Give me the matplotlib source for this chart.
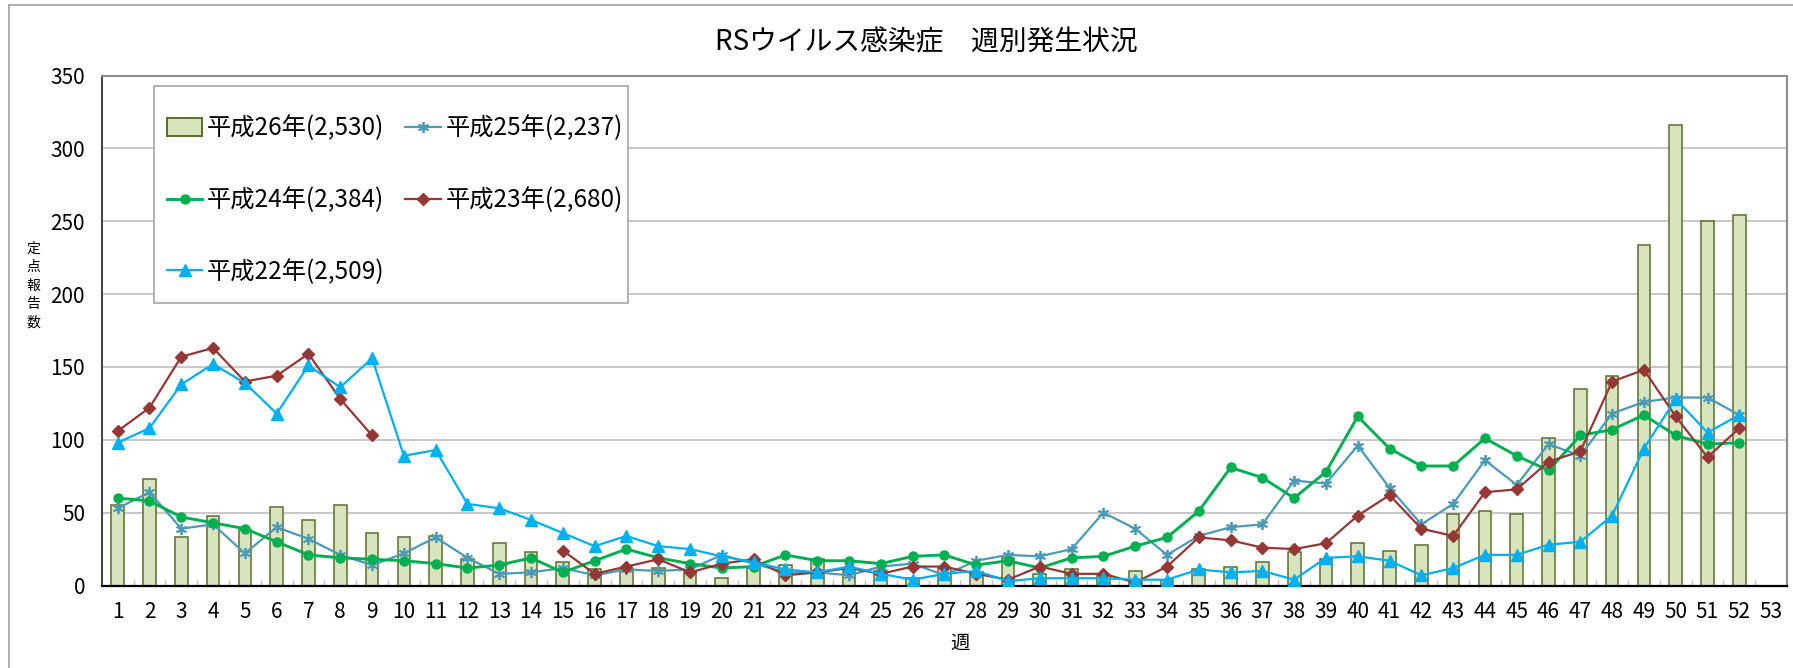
import numpy as np
import matplotlib
matplotlib.use("Agg")
import matplotlib.pyplot as plt
from matplotlib.patches import Rectangle
from matplotlib.lines import Line2D

plt.rcParams['font.family'] = ['Noto Sans CJK JP', 'DejaVu Sans']

title = "RSウイルス感染症　週別発生状況"
xlabel = "週"
ylabel = "定点報告数"
weeks = list(range(1, 54))
week_labels = [str(w) for w in weeks]
yticks = [0, 50, 100, 150, 200, 250, 300, 350]

label_h26 = "平成26年(2,530)"
label_h25 = "平成25年(2,237)"
label_h24 = "平成24年(2,384)"
label_h23 = "平成23年(2,680)"
label_h22 = "平成22年(2,509)"

h26 = [55, 73, 33, 48, 38, 54, 45, 55, 36, 33, 34, 18, 29, 23, 16, 11, 11, 12, 10, 5,
       12, 14, 18, 10, 10, 5, 12, 9, 19, 8, 11, 7, 10, 4, 11, 13, 16, 23, 18, 29,
       24, 28, 49, 51, 49, 101, 135, 144, 234, 316, 250, 254]
h25 = [53, 64, 39, 42, 22, 40, 32, 21, 14, 22, 33, 19, 8, 9, 12, 7, 11, 10, 11, 21,
       15, 9, 9, 7, 13, 15, 7, 17, 21, 20, 25, 50, 39, 21, 34, 40, 42, 72, 70, 96,
       67, 42, 56, 86, 69, 97, 89, 118, 126, 129, 129, 117]
h24 = [60, 58, 47, 43, 39, 30, 21, 19, 18, 17, 15, 12, 14, 19, 9, 17, 25, 19, 15, 12,
       13, 21, 17, 17, 15, 20, 21, 14, 17, 12, 19, 20, 27, 33, 51, 81, 74, 60, 78, 116,
       94, 82, 82, 101, 89, 79, 103, 107, 117, 103, 97, 98]
h23 = [106, 122, 157, 163, 140, 144, 159, 128, 103, None, None, None, None, None, 24, 8, 13, 18, 9, 15,
       18, 7, 9, 12, 8, 13, 13, 8, 4, 13, 8, 8, 2, 13, 33, 31, 26, 25, 29, 48,
       62, 39, 34, 64, 66, 85, 92, 140, 148, 116, 88, 108]
h22 = [98, 108, 138, 152, 139, 118, 151, 136, 156, 89, 93, 56, 53, 45, 36, 27, 34, 27, 25, 20,
       16, 11, 9, 13, 8, 4, 8, 10, 3, 5, 5, 5, 4, 4, 11, 9, 10, 4, 19, 20,
       17, 7, 12, 21, 21, 28, 30, 48, 94, 128, 105, 117]

def arr(v):
    return np.array([np.nan if x is None else x for x in v], dtype=float)

W, H = 1793, 668
fig = plt.figure(figsize=(W / 100, H / 100), dpi=100)
ax = fig.add_axes([101.8 / W, (H - 585.5) / H, (1787 - 101.8) / W, (585.5 - 75.5) / H])

x = np.arange(1, len(h26) + 1)
c_bar_face, c_bar_edge = '#D7E4BD', '#5A6E2E'
c25, c24, c23, c22 = '#4A9BB8', '#00B050', '#953735', '#00B0F0'

ax.bar(x, h26, width=0.4, color=c_bar_face, edgecolor=c_bar_edge, linewidth=1.1, zorder=2)
l25, = ax.plot(x, arr(h25), color=c25, lw=1.6, marker=(6, 2, 0), ms=8, mew=1.3, mec=c25, zorder=3)
l24, = ax.plot(x, arr(h24), color=c24, lw=2.1, marker='o', ms=6.5, mec=c24, zorder=4)
l23, = ax.plot(x, arr(h23), color=c23, lw=1.6, marker='D', ms=6, mec=c23, zorder=5)
l22, = ax.plot(x, arr(h22), color=c22, lw=1.6, marker='^', ms=8, mec=c22, zorder=6)

ax.set_xlim(0.5, 53.5)
ax.set_ylim(0, 350)
ax.set_yticks(yticks)
ax.set_yticklabels([str(v) for v in yticks], fontsize=15)
ax.tick_params(axis='y', length=0, pad=12)
ax.set_xticks(weeks)
ax.set_xticklabels(week_labels, fontsize=15)
ax.tick_params(axis='x', which='major', length=0, pad=11)
ax.set_xticks(np.arange(1.5, 53.5, 1.0), minor=True)
ax.tick_params(axis='x', which='minor', direction='in', length=4, color='#BFBFBF', width=1)
ax.yaxis.grid(True, color='#C8C8C8', lw=1.4, zorder=0)
ax.set_axisbelow(True)
for s in ['top', 'right']:
    ax.spines[s].set_color('#8C8C8C')
    ax.spines[s].set_linewidth(1.5)
ax.spines['left'].set_color('#404040')
ax.spines['left'].set_linewidth(1.4)
ax.spines['bottom'].set_color('#000000')
ax.spines['bottom'].set_linewidth(1.6)

# legend frame
ax_w, ax_h = 1787 - 101.8, 585.5 - 75.5
lx0 = (154 - 101.8) / ax_w
lx1 = (628 - 101.8) / ax_w
ly1 = (585.5 - 86) / ax_h
ly0 = (585.5 - 303) / ax_h
ax.add_patch(Rectangle((lx0, ly0), lx1 - lx0, ly1 - ly0, transform=ax.transAxes,
                       facecolor='white', edgecolor='#A6A6A6', lw=1.2, zorder=7))

hb = Rectangle((0, 0), 1, 1, facecolor=c_bar_face, edgecolor=c_bar_edge, lw=1.4)
handles = [hb, l24, l22, l25, l23]
labels = [label_h26, label_h24, label_h22, label_h25, label_h23]
leg = ax.legend(handles, labels, ncol=2, loc='upper left',
                bbox_to_anchor=((167 - 101.8) / ax_w, (585.5 - 115.5) / ax_h),
                frameon=False, fontsize=17.5, handlelength=1.45, handletextpad=0.2,
                columnspacing=0.85, labelspacing=1.88, borderpad=0, borderaxespad=0)
leg.set_zorder(8)

fig.text(926 / W, 1 - 42 / H, title, ha='center', va='center', fontsize=20)
fig.text(960 / W, 1 - 643 / H, xlabel, ha='center', va='center', fontsize=14)
for i, ch in enumerate(ylabel):
    fig.text(33 / W, 1 - (249 + 18.3 * i) / H, ch, ha='center', va='center', fontsize=10)

# chart outer border (left and top visible)
fig.add_artist(Line2D([9 / W, 9 / W], [0, 1 - 5 / H], color='#A0A0A0', lw=1.2))
fig.add_artist(Line2D([9 / W, 1.0], [1 - 5 / H, 1 - 5 / H], color='#A0A0A0', lw=1.2))

fig.savefig("out.png", dpi=100)
